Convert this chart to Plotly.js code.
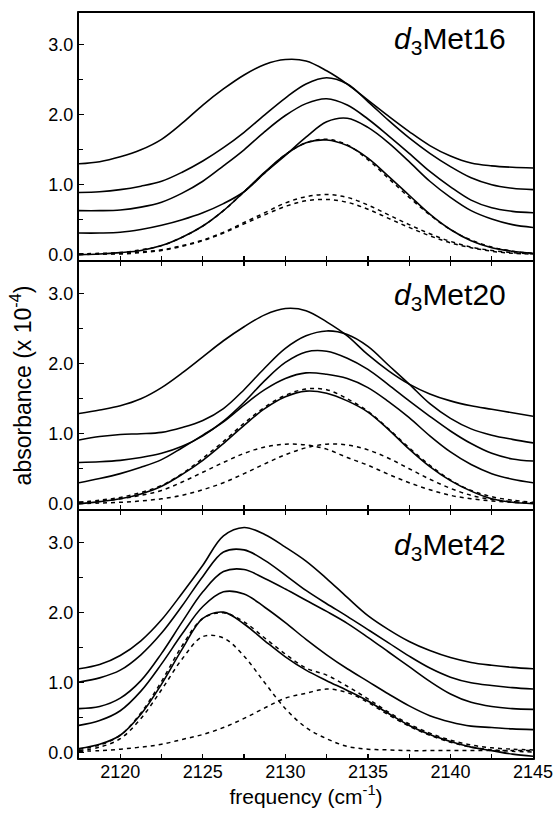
<!DOCTYPE html>
<html>
<head>
<meta charset="utf-8">
<script src="https://cdn.plot.ly/plotly-3.0.1.min.js"></script>
<style>html,body{margin:0;padding:0;background:#fff;}#chart{width:557px;height:815px;}</style>
</head>
<body>
<div id="chart"></div>
<script>
// frequency grid (cm-1)
const freq = [2117.5, 2118.75, 2120, 2121.25, 2122.5, 2123.75, 2125, 2126.25, 2127.5, 2128.75, 2130, 2131.25, 2132.5, 2133.75, 2135, 2136.25, 2137.5, 2138.75, 2140, 2141.25, 2142.5, 2143.75, 2145];

// d3Met16 (top panel)
const m16_a = [1.30,1.33,1.40,1.50,1.65,1.88,2.14,2.37,2.57,2.72,2.79,2.77,2.63,2.44,2.21,1.98,1.76,1.56,1.41,1.31,1.27,1.25,1.24];
const m16_b = [0.89,0.90,0.93,0.98,1.05,1.18,1.34,1.53,1.75,2.00,2.24,2.44,2.53,2.44,2.19,1.92,1.67,1.45,1.26,1.10,1.00,0.95,0.93];
const m16_c = [0.63,0.63,0.64,0.68,0.75,0.88,1.05,1.27,1.50,1.76,1.99,2.16,2.23,2.14,1.94,1.70,1.45,1.19,0.97,0.78,0.67,0.62,0.60];
const m16_d = [0.31,0.31,0.32,0.36,0.42,0.50,0.60,0.73,0.90,1.17,1.42,1.68,1.90,1.95,1.82,1.60,1.33,1.05,0.82,0.63,0.51,0.43,0.39];
const m16_e = [0.00,0.01,0.03,0.06,0.13,0.25,0.41,0.63,0.90,1.18,1.43,1.60,1.64,1.56,1.38,1.12,0.85,0.58,0.36,0.20,0.10,0.05,0.02];
const m16_g1 = [0.01,0.01,0.02,0.04,0.07,0.13,0.21,0.32,0.46,0.60,0.74,0.83,0.86,0.82,0.71,0.57,0.43,0.30,0.19,0.11,0.06,0.03,0.01];
const m16_g2 = [0.00,0.01,0.01,0.03,0.06,0.12,0.20,0.31,0.44,0.57,0.69,0.77,0.79,0.75,0.65,0.52,0.39,0.27,0.17,0.10,0.05,0.02,0.01];
const m16_fit = [0.01,0.02,0.03,0.07,0.13,0.25,0.41,0.63,0.90,1.17,1.43,1.60,1.65,1.57,1.36,1.09,0.82,0.57,0.36,0.21,0.11,0.05,0.02];

// d3Met20 (middle panel)
const m20_a = [1.29,1.34,1.40,1.50,1.66,1.87,2.10,2.33,2.53,2.70,2.79,2.76,2.60,2.40,2.13,1.90,1.71,1.57,1.47,1.40,1.35,1.30,1.25];
const m20_b = [0.91,0.96,0.99,1.00,1.02,1.09,1.19,1.36,1.63,1.94,2.22,2.40,2.47,2.42,2.25,1.98,1.71,1.43,1.22,1.07,0.98,0.92,0.87];
const m20_c = [0.59,0.60,0.62,0.66,0.72,0.82,0.97,1.18,1.45,1.76,2.02,2.17,2.18,2.08,1.92,1.70,1.47,1.25,1.04,0.86,0.72,0.64,0.61];
const m20_d = [0.30,0.36,0.43,0.52,0.63,0.80,0.98,1.17,1.41,1.63,1.79,1.87,1.85,1.79,1.66,1.46,1.23,0.97,0.74,0.56,0.43,0.35,0.30];
const m20_e = [0.00,0.03,0.07,0.14,0.25,0.42,0.62,0.86,1.12,1.36,1.53,1.61,1.58,1.47,1.31,1.06,0.78,0.53,0.33,0.18,0.07,0.02,0.00];
const m20_g1 = [0.02,0.04,0.07,0.12,0.19,0.31,0.45,0.59,0.72,0.81,0.85,0.84,0.78,0.66,0.55,0.42,0.30,0.20,0.12,0.07,0.04,0.02,0.01];
const m20_g2 = [0.00,0.01,0.02,0.04,0.07,0.12,0.20,0.30,0.43,0.57,0.70,0.80,0.85,0.84,0.77,0.65,0.50,0.35,0.22,0.12,0.06,0.03,0.01];
const m20_fit = [0.02,0.05,0.09,0.16,0.26,0.43,0.65,0.89,1.15,1.38,1.55,1.64,1.63,1.50,1.32,1.07,0.80,0.55,0.34,0.19,0.10,0.05,0.02];

// d3Met42 (bottom panel)
const m42_a = [1.20,1.26,1.39,1.60,1.90,2.28,2.68,3.10,3.22,3.12,2.94,2.74,2.49,2.22,1.96,1.76,1.59,1.46,1.36,1.29,1.25,1.22,1.20];
const m42_b = [1.01,1.07,1.18,1.40,1.71,2.10,2.52,2.87,2.90,2.75,2.54,2.32,2.13,1.95,1.76,1.57,1.38,1.21,1.08,1.00,0.96,0.93,0.91];
const m42_c = [0.63,0.66,0.78,1.03,1.42,1.87,2.30,2.59,2.62,2.49,2.34,2.18,2.02,1.85,1.65,1.44,1.23,1.02,0.84,0.72,0.66,0.63,0.62];
const m42_d = [0.39,0.46,0.60,0.88,1.27,1.70,2.09,2.30,2.27,2.08,1.86,1.62,1.40,1.20,1.02,0.84,0.67,0.53,0.44,0.38,0.36,0.34,0.33];
const m42_e = [0.06,0.12,0.25,0.55,0.98,1.48,1.92,2.01,1.84,1.60,1.37,1.18,1.03,0.89,0.74,0.56,0.39,0.26,0.16,0.08,0.03,-0.02,-0.05];
const m42_g1 = [0.03,0.08,0.20,0.49,0.90,1.34,1.66,1.64,1.38,1.00,0.63,0.36,0.20,0.09,0.05,0.04,0.03,0.03,0.03,0.03,0.03,0.03,0.03];
const m42_g2 = [0.02,0.03,0.05,0.08,0.12,0.19,0.26,0.36,0.49,0.64,0.78,0.85,0.91,0.86,0.72,0.54,0.38,0.25,0.15,0.08,0.04,0.02,0.01];
const m42_fit = [0.05,0.11,0.25,0.57,1.02,1.53,1.92,2.00,1.87,1.64,1.41,1.21,1.11,0.95,0.77,0.58,0.41,0.28,0.18,0.11,0.07,0.05,0.04];

const panelLabels = ['<i>d</i><sub>3</sub>Met16', '<i>d</i><sub>3</sub>Met20', '<i>d</i><sub>3</sub>Met42'];
const yTickVals = [0, 1, 2, 3];
const yTickText = ['0.0', '1.0', '2.0', '3.0'];

const panels = [
  {xa: 'x3', ya: 'y3', solid: [m16_a, m16_b, m16_c, m16_d, m16_e], dashed: [m16_g1, m16_g2, m16_fit]},
  {xa: 'x2', ya: 'y2', solid: [m20_a, m20_b, m20_c, m20_d, m20_e], dashed: [m20_g1, m20_g2, m20_fit]},
  {xa: 'x',  ya: 'y',  solid: [m42_a, m42_b, m42_c, m42_d, m42_e], dashed: [m42_g1, m42_g2, m42_fit]}
];

const traces = [];
panels.forEach(p => {
  p.dashed.forEach(v => traces.push({
    x: freq, y: v, xaxis: p.xa, yaxis: p.ya, type: 'scatter', mode: 'lines',
    line: {color: '#000', width: 1.5, dash: '4px,4px', shape: 'spline', smoothing: 1},
    hoverinfo: 'skip', showlegend: false
  }));
  p.solid.forEach(v => traces.push({
    x: freq, y: v, xaxis: p.xa, yaxis: p.ya, type: 'scatter', mode: 'lines',
    line: {color: '#000', width: 1.6, shape: 'spline', smoothing: 1},
    hoverinfo: 'skip', showlegend: false
  }));
});

const FONT = 'Liberation Sans, Arial, sans-serif';

function xAxis(anchor, showLabels, mirror, title) {
  const ax = {
    anchor: anchor, range: [2117.5, 2145], showgrid: false, zeroline: false,
    showline: false, mirror: mirror,
    ticks: 'inside', ticklen: 5, tickwidth: 1.2, tickcolor: '#000',
    tick0: 2120, dtick: 5, showticklabels: showLabels,
    tickfont: {family: FONT, size: 18, color: '#000'},
    minor: {tick0: 2120, dtick: 2.5, ticks: 'inside', ticklen: 5, tickwidth: 1.2, tickcolor: '#000', showgrid: false}
  };
  if (anchor !== 'y') ax.matches = 'x';
  if (title) ax.title = {text: title, font: {family: FONT, size: 21, color: '#000'}, standoff: 2};
  return ax;
}
function yAxis(anchor, domain) {
  return {
    anchor: anchor, domain: domain, range: [-0.09, 3.47], showgrid: false, zeroline: false,
    showline: true, linecolor: '#000', linewidth: 2, mirror: true,
    ticks: 'inside', ticklen: 5, tickwidth: 1.2, tickcolor: '#000',
    tickvals: yTickVals, ticktext: yTickText,
    tickfont: {family: FONT, size: 18, color: '#000'},
    minor: {tickvals: [0.5, 1.5, 2.5], ticks: 'inside', ticklen: 4, tickwidth: 1.2, tickcolor: '#000', showgrid: false}
  };
}

const frameY = [0, 1/3, 2/3, 1];
const shapes = frameY.map(v => ({
  type: 'line', xref: 'paper', yref: 'paper', x0: -0.004, x1: 1.004, y0: v, y1: v,
  line: {color: '#000', width: 2}, layer: 'above'
}));

const labelY = [0.962, 0.619, 0.284];
const annotations = panelLabels.map((t, i) => ({
  text: t, xref: 'paper', yref: 'paper', x: 0.946, y: labelY[i], xanchor: 'right', yanchor: 'middle',
  showarrow: false, font: {family: FONT, size: 30, color: '#000'}
}));
annotations.push({text: 'absorbance (x 10<sup>-4</sup>)', xref: 'paper', yref: 'paper', x: -0.128, y: 0.5,
  xanchor: 'center', yanchor: 'middle', textangle: -90, showarrow: false,
  font: {family: FONT, size: 23, color: '#000'}});

const layout = {
  width: 557, height: 815,
  margin: {l: 79, r: 24, t: 12, b: 56},
  paper_bgcolor: '#fff', plot_bgcolor: '#fff',
  font: {family: FONT, color: '#000'},
  showlegend: false,
  xaxis: xAxis('y', true, 'ticks', 'frequency (cm<sup>-1</sup>)'),
  xaxis2: xAxis('y2', false, 'ticks'),
  xaxis3: xAxis('y3', false, false),
  yaxis: yAxis('x', [0, 1/3]),
  yaxis2: yAxis('x2', [1/3, 2/3]),
  yaxis3: yAxis('x3', [2/3, 1]),
  shapes: shapes,
  annotations: annotations
};

Plotly.newPlot('chart', traces, layout, {staticPlot: true, displayModeBar: false});
</script>
</body>
</html>
